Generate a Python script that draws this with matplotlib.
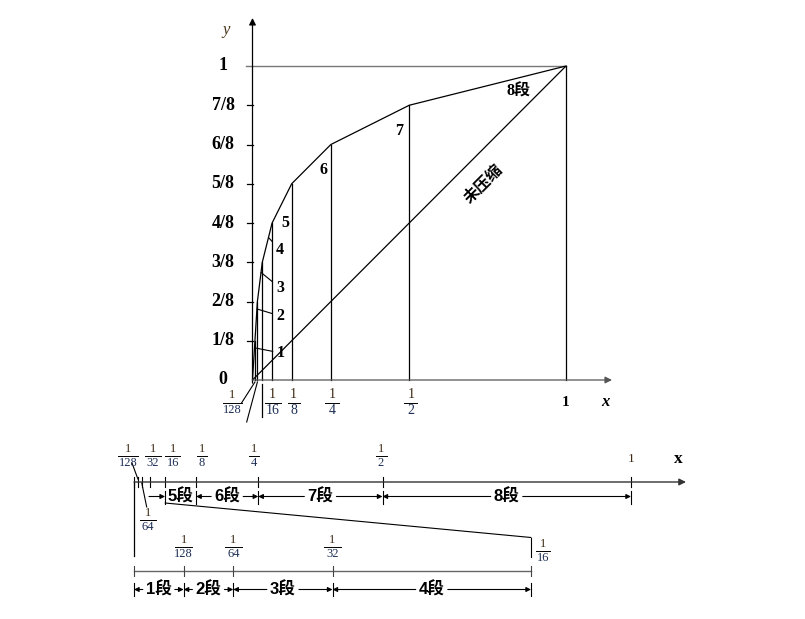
import matplotlib
matplotlib.use("Agg")
import matplotlib.pyplot as plt
from matplotlib.patches import ConnectionPatch
from matplotlib.transforms import blended_transform_factory

W, H = 805, 619

# A-law 13-segment curve: segment end points
seg_x = [0, 1/128, 1/64, 1/32, 1/16, 1/8, 1/4, 1/2, 1]
seg_y = [0, 1/8, 2/8, 3/8, 4/8, 5/8, 6/8, 7/8, 1]
y_labels = ["0", "1/8", "2/8", "3/8", "4/8", "5/8", "6/8", "7/8", "1"]
seg_names = ["1", "2", "3", "4", "5", "6", "7", "8段"]

# x fraction labels of the main plot
main_frac_val = [1/128, 1/16, 1/8, 1/4, 1/2]
main_frac_den = ["128", "16", "8", "4", "2"]

# upper number line (0..1) and magnified lower one (0..1/16)
top_edges = [1/16, 1/8, 1/4, 1/2, 1]
top_names = ["5段", "6段", "7段", "8段"]
top_frac_den = ["128", "32", "16", "8", "4", "2"]
low_edges = [0, 1/128, 1/64, 1/32, 1/16]
low_names = ["1段", "2段", "3段", "4段"]
low_frac_den = ["128", "64", "32"]

plt.rcParams["font.family"] = ["Liberation Serif", "Noto Sans CJK SC"]
NUM_C, DEN_C = "#3c2a14", "#1e2f55"

fig = plt.figure(figsize=(W / 100, H / 100), dpi=100)


def px_axes(x0, x1, y0, y1, xlim, ylim):
    a = fig.add_axes([x0 / W, 1 - y0 / H, (x1 - x0) / W, (y0 - y1) / H])
    a.set_xlim(*xlim)
    a.set_ylim(*ylim)
    a.axis("off")
    return a


pax = px_axes(0, W, H, 0, (0, W), (H, 0))


def frac(a, tr, x, yline, den, size, halfw):
    a.text(x, yline - 1.2, "1", transform=tr, ha="center", va="bottom",
           fontsize=size, color=NUM_C)
    a.text(x, yline + 1.2, den, transform=tr, ha="center", va="top",
           fontsize=size, color=DEN_C)
    a.plot([x - halfw, x + halfw], [yline, yline], transform=tr,
           color="k", lw=0.7, clip_on=False)


# ---------------- main curve ----------------
sx, sy = 313.5, 314.0
ax = px_axes(252.5, 566, 380, 66, (0, 1), (0, 1))
tm = blended_transform_factory(ax.transData, pax.transData)
arr = dict(arrowstyle="-|>", color="k", lw=0.9, mutation_scale=10, shrinkA=0, shrinkB=0)
ax.annotate("", xy=(0, 362 / sy), xytext=(0, -0.01), arrowprops=arr, annotation_clip=False)
ax.annotate("", xy=(359.5 / sx, 0), xytext=(0, 0), arrowprops=dict(arr, color="#555"),
            annotation_clip=False)

for v in seg_y[1:-1]:
    ax.plot([-6 / sx, 0], [v, v], color="k", lw=0.9, clip_on=False)
ax.plot([-7 / sx, 1], [1, 1], color="#777", lw=1.0, clip_on=False)
for v, s in zip(seg_y, y_labels):
    ax.text(-29.5 / sx, v, s, ha="center", va="center", fontsize=13, fontweight="bold")

ax.plot(seg_x, seg_y, color="k", lw=0.9, clip_on=False)
for xv, yv in zip(seg_x[1:], seg_y[1:]):
    ax.plot([xv, xv], [0, yv], color="k", lw=0.9, clip_on=False)
ax.plot([0, 1], [0, 1], color="k", lw=0.9)

name_pos = [(0.091, 0.086), (0.088, 0.204), (0.088, 0.293), (0.088, 0.414),
            (0.104, 0.500), (0.225, 0.669), (0.467, 0.793), (0.850, 0.917)]
lead_t = [0.82, 0.81, 0.74, 0.63]
for i, (nm, p) in enumerate(zip(seg_names, name_pos)):
    if i < 4:
        t = lead_t[i]
        tgt = (seg_x[i] + t * (seg_x[i + 1] - seg_x[i]), seg_y[i] + t * (seg_y[i + 1] - seg_y[i]))
        ax.annotate(nm, xy=tgt, xytext=p, ha="center", va="center", fontsize=11.5,
                    fontweight="bold",
                    arrowprops=dict(arrowstyle="-", lw=0.8, color="k", shrinkA=1, shrinkB=0))
    else:
        ax.text(p[0], p[1], nm, ha="center", va="center", fontsize=11.5, fontweight="bold")

ax.text(0.735, 0.627, "未压缩", rotation=45, ha="center", va="center", fontsize=11.5,
        fontweight="bold", family="Noto Sans CJK SC")

frac_x = [-0.065, 0.0645, 0.131, 0.253, 0.505]
frac_w = [9.5, 8, 6, 7, 6.5]
for xv, d, w in zip(frac_x, main_frac_den, frac_w):
    frac(ax, tm, xv, 402.5, d, 9 if d == "128" else 10, w / sx)
ax.text(1, 402, "1", transform=tm, ha="center", va="center", fontsize=11, fontweight="bold")
ax.text(352.5 / sx, 402, "x", transform=tm, ha="center", va="center", fontsize=12,
        fontweight="bold", style="italic")
ax.text(-26.5 / sx, 30, "y", transform=tm, ha="center", va="center", fontsize=12,
        style="italic", color="#4a3418")
ax.plot([1/32, 1/32], [384, 417], transform=tm, color="k", lw=0.9, clip_on=False)
ax.plot([1/128, -10.8 / sx], [382, 402.7], transform=tm, color="k", lw=0.8, clip_on=False)
ax.plot([1/64, -5.8 / sx], [382, 422], transform=tm, color="k", lw=0.8, clip_on=False)

# ---------------- upper number line ----------------
s2 = 497.0
ax2 = px_axes(134, 631, H, 0, (0, 1), (H, 0))
dim = dict(arrowstyle="-|>", color="k", lw=0.8, mutation_scale=7, shrinkA=0, shrinkB=0)
seg_font = dict(fontsize=12, fontweight="bold", family=["Liberation Sans", "Noto Sans CJK SC"])
ax2.annotate("", xy=(552 / s2, 482), xytext=(0, 482), arrowprops=dict(arr, color="#333", lw=1.0),
             annotation_clip=False)
for v in seg_x:
    ax2.plot([v, v], [477, 487], color="k", lw=0.8, clip_on=False)
for v in top_edges:
    ax2.plot([v, v], [491, 504], color="k", lw=0.8, clip_on=False)
ax2.plot([0, 0], [482, 556], color="k", lw=0.9, clip_on=False)

g2 = 16 / s2
for a, b, nm in zip(top_edges[:-1], top_edges[1:], top_names):
    mid = (a + b) / 2
    ax2.text(mid, 496.5, nm, ha="center", va="center", **seg_font)
    if nm == "5段":
        ax2.annotate("", xy=(a, 496.5), xytext=(15 / s2, 496.5), arrowprops=dim,
                     annotation_clip=False)
    else:
        ax2.annotate("", xy=(a, 496.5), xytext=(mid - g2, 496.5), arrowprops=dim,
                     annotation_clip=False)
        ax2.annotate("", xy=(b, 496.5), xytext=(mid + g2, 496.5), arrowprops=dim,
                     annotation_clip=False)

top_frac_x = [-0.012, 0.038, 0.078, 0.137, 0.241, 0.497]
top_frac_w = [10, 8, 7.5, 5, 5, 5.5]
for xv, d, w in zip(top_frac_x, top_frac_den, top_frac_w):
    frac(ax2, ax2.transData, xv, 456, d, 9, w / s2)
ax2.text(1, 459, "1", ha="center", va="center", fontsize=9.5, color=NUM_C)
ax2.text(544 / s2, 459, "x", ha="center", va="center", fontsize=12.5, fontweight="bold")
frac(ax2, ax2.transData, 0.0282, 520, "64", 9, 8 / s2)
ax2.plot([1/64, 12.7 / s2], [483, 507], color="k", lw=0.8, clip_on=False)
ax2.plot([-2 / s2, 1/128], [463, 479], color="k", lw=0.8, clip_on=False)

# ---------------- magnified lower line ----------------
s3 = 397.0 * 16
ax3 = px_axes(134, 531, H, 0, (0, 1/16), (H, 0))
ax3.plot([0, 1/16], [571, 571], color="#666", lw=1.0, clip_on=False)
for v in low_edges:
    ax3.plot([v, v], [566, 576], color="#444", lw=0.8, clip_on=False)
    ax3.plot([v, v], [583, 596], color="k", lw=0.8, clip_on=False)
ax3.plot([1/16, 1/16], [537.5, 557], color="k", lw=0.8, clip_on=False)
g3 = 16 / s3
for a, b, nm in zip(low_edges[:-1], low_edges[1:], low_names):
    mid = (a + b) / 2
    ax3.text(mid, 589.5, nm, ha="center", va="center", **seg_font)
    ax3.annotate("", xy=(a, 589.5), xytext=(mid - g3, 589.5), arrowprops=dim,
                 annotation_clip=False)
    ax3.annotate("", xy=(b, 589.5), xytext=(mid + g3, 589.5), arrowprops=dim,
                 annotation_clip=False)
for v, d in zip(low_edges[1:4], low_frac_den):
    frac(ax3, ax3.transData, v, 547, d, 9, 8.5 / s3)
frac(ax3, ax3.transData, 409 / s3, 551, "16", 9, 7 / s3)

con = ConnectionPatch(xyA=(1/16, 503), coordsA=ax2.transData, xyB=(1/16, 537.5),
                      coordsB=ax3.transData, color="k", lw=0.8)
fig.add_artist(con)

fig.savefig("out.png", dpi=100)
